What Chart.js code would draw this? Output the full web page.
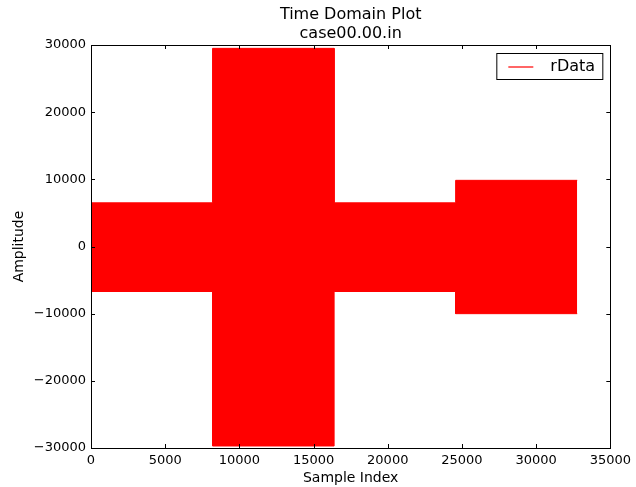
<!DOCTYPE html>
<html>
<head>
<meta charset="utf-8">
<script src="https://cdn.jsdelivr.net/npm/chart.js@4/dist/chart.umd.min.js"></script>
<style>
  html, body { margin: 0; padding: 0; background: #fff; }
  #wrap { width: 636px; height: 487px; }
</style>
</head>
<body>
<div id="wrap"><canvas id="chart" width="636" height="487"></canvas></div>
<script>
// signal envelope, one entry per block of samples
const segStart = [0, 8192, 16384, 24576];
const segEnd   = [8192, 16384, 24576, 32768];
const upperAmp = [6500, 29500, 6500, 9850];
const lowerAmp = [-6700, -29700, -6700, -10000];

const xTicks = [0, 5000, 10000, 15000, 20000, 25000, 30000, 35000];
const yTicks = [-30000, -20000, -10000, 0, 10000, 20000, 30000];

const FONT = 'DejaVu Sans';

function envelope(amps) {
  const pts = [];
  for (let i = 0; i < segStart.length; i++) {
    pts.push({ x: segStart[i], y: amps[i] });
    pts.push({ x: segEnd[i], y: amps[i] });
  }
  return pts;
}

function fmt(v) {
  return v < 0 ? '\u2212' + Math.abs(v) : String(v);
}

// matplotlib-like frame, inward ticks, title and legend box
const framePlugin = {
  id: 'frame',
  afterDraw(chart) {
    const { ctx, chartArea: a, scales } = chart;
    ctx.save();
    ctx.strokeStyle = '#000';
    ctx.lineWidth = 1;
    ctx.strokeRect(Math.round(a.left) + 0.5, Math.round(a.top) + 0.5,
                   Math.round(a.right - a.left), Math.round(a.bottom - a.top));
    ctx.beginPath();
    xTicks.forEach(v => {
      const px = Math.round(scales.x.getPixelForValue(v)) + 0.5;
      ctx.moveTo(px, a.bottom); ctx.lineTo(px, a.bottom - 4);
      ctx.moveTo(px, a.top); ctx.lineTo(px, a.top + 4);
    });
    yTicks.forEach(v => {
      const py = Math.round(scales.y.getPixelForValue(v)) + 0.5;
      ctx.moveTo(a.left, py); ctx.lineTo(a.left + 4, py);
      ctx.moveTo(a.right, py); ctx.lineTo(a.right - 4, py);
    });
    ctx.stroke();

    ctx.fillStyle = '#000';
    ctx.font = '16px ' + FONT;
    ctx.textAlign = 'center';
    ctx.textBaseline = 'middle';
    const cx = (a.left + a.right) / 2;
    ctx.fillText('Time Domain Plot', cx, 15);
    ctx.fillText('case00.00.in', cx, 34);

    // legend
    const lx = a.right - 8 - 106, ly = a.top + 8;
    ctx.fillStyle = '#fff';
    ctx.fillRect(lx + 0.5, ly + 0.5, 106, 26);
    ctx.strokeStyle = '#000';
    ctx.strokeRect(lx + 0.5, ly + 0.5, 106, 26);
    ctx.strokeStyle = 'rgba(255,0,0,0.6)';
    ctx.lineWidth = 2;
    ctx.beginPath();
    ctx.moveTo(lx + 12, ly + 14);
    ctx.lineTo(lx + 37, ly + 14);
    ctx.stroke();
    ctx.fillStyle = '#000';
    ctx.textAlign = 'left';
    ctx.font = '16px ' + FONT;
    ctx.fillText(chart.data.datasets[0].label, lx + 54, ly + 14);
    ctx.restore();
  }
};

const ctx = document.getElementById('chart');

new Chart(ctx, {
  type: 'line',
  data: {
    datasets: [{
      label: 'rData',
      data: envelope(upperAmp),
      borderColor: '#ff0000',
      backgroundColor: '#ff0000',
      borderWidth: 1,
      pointRadius: 0,
      tension: 0,
      fill: '+1'
    }, {
      label: 'lower',
      data: envelope(lowerAmp),
      borderColor: '#ff0000',
      backgroundColor: '#ff0000',
      borderWidth: 1,
      pointRadius: 0,
      tension: 0,
      fill: false
    }]
  },
  options: {
    responsive: false,
    animation: false,
    events: [],
    layout: { autoPadding: false, padding: { left: 0, right: 22, top: 45, bottom: 0 } },
    plugins: {
      title: { display: false },
      tooltip: { enabled: false },
      legend: { display: false }
    },
    scales: {
      x: {
        type: 'linear',
        min: 0,
        max: 35000,
        afterFit(s) { s.height = 39; },
        afterBuildTicks(s) { s.ticks = xTicks.map(v => ({ value: v })); },
        grid: { display: false, drawTicks: false },
        border: { display: false },
        ticks: {
          color: '#000',
          font: { family: FONT, size: 13 },
          padding: 5,
          maxRotation: 0,
          autoSkip: false,
          callback: v => fmt(v)
        },
        title: {
          display: true,
          text: 'Sample Index',
          color: '#000',
          font: { family: FONT, size: 14 },
          padding: { top: 0, bottom: 0 }
        }
      },
      y: {
        type: 'linear',
        min: -30000,
        max: 30000,
        afterFit(s) { s.width = 91; },
        afterBuildTicks(s) { s.ticks = yTicks.map(v => ({ value: v })); },
        grid: { display: false, drawTicks: false },
        border: { display: false },
        ticks: {
          color: '#000',
          font: { family: FONT, size: 13 },
          padding: 5,
          autoSkip: false,
          callback: v => fmt(v)
        },
        title: {
          display: true,
          text: 'Amplitude',
          color: '#000',
          font: { family: FONT, size: 14 },
          padding: { top: 11, bottom: 0 }
        }
      }
    }
  },
  plugins: [framePlugin]
});
</script>
</body>
</html>
